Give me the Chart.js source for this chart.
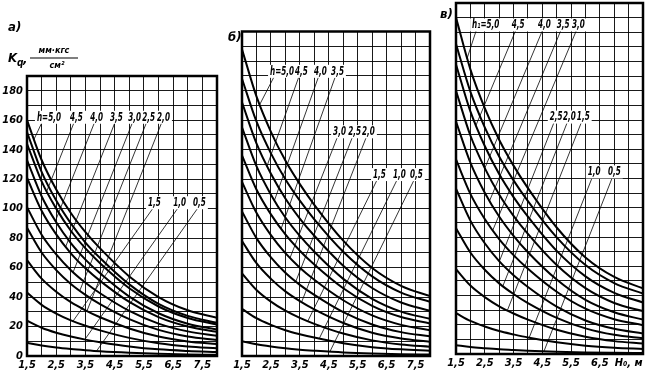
<!DOCTYPE html>
<html>
<head>
<meta charset="utf-8">
<script src="https://cdn.jsdelivr.net/npm/chart.js@4.4.1/dist/chart.umd.min.js"></script>
<style>
  html, body { margin: 0; padding: 0; background: #fff; }
  #wrap { position: relative; width: 650px; height: 382px; overflow: hidden; }
  canvas { position: absolute; top: 0; }
</style>
</head>
<body>
<div id="wrap">
  <canvas id="chartA" width="222" height="382" style="left:0"></canvas>
  <canvas id="chartB" width="212" height="382" style="left:222px"></canvas>
  <canvas id="chartC" width="216" height="382" style="left:434px"></canvas>
</div>
<script>
const hPoints = [1.5, 2, 2.5, 3, 3.5, 4, 5, 6, 7, 8];

// K_q readings, one row per curve, top curve first
const curvesA = [
  [160, 133, 113, 97, 84, 73, 54, 40, 31, 26],
  [152, 125, 105.5, 90, 77, 66.5, 48.6, 35.4, 27.2, 22.5],
  [144, 118.5, 100, 85, 73, 63, 46, 33.6, 25.8, 21.3],
  [133, 108.4, 90.7, 76.6, 65.4, 56.1, 40.3, 29, 21.9, 18],
  [121, 98.6, 82.5, 69.7, 59.5, 51, 36.7, 26.4, 20, 16.4],
  [101, 82.3, 68.9, 58.2, 49.7, 42.6, 30.6, 22, 16.7, 13.7],
  [87, 70.2, 58.3, 48.9, 41.5, 35.2, 25, 17.7, 13.2, 10.8],
  [65, 52.5, 43.6, 36.5, 31, 26.3, 18.7, 13.2, 9.9, 8.1],
  [43, 34.7, 28.8, 24.2, 20.5, 17.4, 12.3, 8.7, 6.5, 5.3],
  [24, 19.2, 15.8, 13.2, 11.1, 9.4, 6.5, 4.5, 3.4, 2.7],
  [9, 7.1, 5.7, 4.7, 3.9, 3.2, 2.2, 1.5, 1.1, 0.85]
];
const curvesB = [
  [208, 176, 152, 132.5, 116.5, 102.5, 78.2, 59.7, 47.6, 40.6],
  [188, 159, 137.4, 119.8, 105.3, 92.7, 70.7, 54, 43, 36.7],
  [172, 144.1, 123.5, 106.8, 93.2, 81.5, 61.2, 46.1, 36.3, 30.6],
  [155, 128.7, 109.4, 93.9, 81.4, 70.7, 52.3, 38.8, 30.1, 25.2],
  [136, 112.9, 96, 82.4, 71.4, 62, 45.9, 34, 26.4, 22.1],
  [118, 97.1, 81.9, 69.7, 59.9, 51.7, 37.8, 27.5, 21.1, 17.5],
  [98, 79.9, 66.8, 56.4, 48.2, 41.4, 29.7, 21.4, 16.2, 13.3],
  [78, 62.9, 52.3, 43.8, 37.2, 31.6, 22.4, 15.8, 11.9, 9.7],
  [56, 44.8, 36.9, 30.7, 25.8, 21.8, 15.2, 10.6, 7.8, 6.3],
  [32, 25.6, 21.1, 17.5, 14.8, 12.5, 8.7, 6, 4.5, 3.6],
  [10, 7.9, 6.4, 5.2, 4.3, 3.6, 2.4, 1.65, 1.2, 0.94]
];
const curvesC = [
  [230, 194.6, 168.1, 146.5, 128.8, 113.4, 86.5, 66, 52.7, 44.9],
  [212, 179.4, 155, 135, 118.7, 104.5, 79.7, 60.8, 48.5, 41.3],
  [198, 165.9, 142.2, 123, 107.3, 93.9, 70.5, 53.1, 41.8, 35.2],
  [180, 149.4, 127.1, 109.1, 94.5, 82.1, 60.8, 45, 34.9, 29.3],
  [159, 130.9, 110.3, 94, 80.8, 69.6, 50.9, 37, 28.5, 23.5],
  [133, 109.5, 92.3, 78.6, 67.6, 58.3, 42.6, 31, 23.8, 19.7],
  [113, 91.2, 75.7, 63.5, 53.9, 45.8, 32.4, 22.9, 17.2, 14],
  [86, 69.4, 57.6, 48.3, 41, 34.8, 24.7, 17.5, 13.1, 10.7],
  [58, 46.8, 38.9, 32.6, 27.7, 23.5, 16.6, 11.8, 8.8, 7.2],
  [28, 22.6, 18.8, 15.7, 13.4, 11.3, 8, 5.7, 4.3, 3.5],
  [6, 4.8, 4, 3.3, 2.8, 2.3, 1.6, 1.1, 0.84, 0.68]
];

// tick labels
const yTickLabels = [0, 20, 40, 60, 80, 100, 120, 140, 160, 180];
const xTickLabels = ["1,5", "2,5", "3,5", "4,5", "5,5", "6,5", "7,5"];
const xTickLabelsC = ["1,5", "2,5", "3,5", "4,5", "5,5", "6,5", "H\u2080, \u043c"];

const NARROW = '"Liberation Sans Narrow", "DejaVu Sans Condensed", "Roboto", sans-serif';
const tickFont = { family: NARROW, size: 11, style: "italic", weight: "bold" };

// curve labels: h = text position, lh/s = leader start and slope, c = curve index
const rowsA = [
  { k: 162, items: [
    { t: "h=5,0", h: 1.84, lh: 2.0, s: 42, c: 0 },
    { t: "4,5", h: 2.97, lh: 3.1, s: 50, c: 2 },
    { t: "4,0", h: 3.66, lh: 3.8, s: 50, c: 3 },
    { t: "3,5", h: 4.34, lh: 4.5, s: 50, c: 4 },
    { t: "3,0", h: 4.96, lh: 5.1, s: 50, c: 5 },
    { t: "2,5", h: 5.44, lh: 5.58, s: 50, c: 6 },
    { t: "2,0", h: 5.95, lh: 6.1, s: 50, c: 7 }
  ]},
  { k: 104, items: [
    { t: "1,5", h: 5.64, lh: 5.8, s: 28, c: 8 },
    { t: "1,0", h: 6.5, lh: 6.65, s: 28, c: 9 },
    { t: "0,5", h: 7.18, lh: 7.33, s: 28, c: 10 }
  ]}
];
const rowsB = [
  { k: 193, items: [
    { t: "h=5,0", h: 2.47, lh: 2.6, s: 38, c: 0 },
    { t: "4,5", h: 3.33, lh: 3.46, s: 55, c: 2 },
    { t: "4,0", h: 3.99, lh: 4.14, s: 55, c: 3 },
    { t: "3,5", h: 4.58, lh: 4.72, s: 55, c: 4 }
  ]},
  { k: 152, items: [
    { t: "3,0", h: 4.65, lh: 4.79, s: 50, c: 5 },
    { t: "2,5", h: 5.17, lh: 5.31, s: 50, c: 6 },
    { t: "2,0", h: 5.65, lh: 5.79, s: 50, c: 7 }
  ]},
  { k: 123, items: [
    { t: "1,5", h: 6.03, lh: 6.16, s: 40, c: 8 },
    { t: "1,0", h: 6.72, lh: 6.85, s: 40, c: 9 },
    { t: "0,5", h: 7.31, lh: 7.44, s: 40, c: 10 }
  ]}
];
const rowsC = [
  { k: 225, items: [
    { t: "h\u2081=5,0", h: 2.06, lh: 2.2, s: 60, c: 0 },
    { t: "4,5", h: 3.44, lh: 3.57, s: 47, c: 2 },
    { t: "4,0", h: 4.35, lh: 4.5, s: 47, c: 3 },
    { t: "3,5", h: 5.0, lh: 5.14, s: 47, c: 4 },
    { t: "3,0", h: 5.53, lh: 5.68, s: 47, c: 5 }
  ]},
  { k: 162, items: [
    { t: "2,5", h: 4.76, lh: 4.9, s: 50, c: 6 },
    { t: "2,0", h: 5.22, lh: 5.36, s: 50, c: 7 },
    { t: "1,5", h: 5.7, lh: 5.85, s: 50, c: 8 }
  ]},
  { k: 124.5, items: [
    { t: "1,0", h: 6.08, lh: 6.23, s: 50, c: 9 },
    { t: "0,5", h: 6.78, lh: 6.93, s: 50, c: 10 }
  ]}
];

function curveAt(curve, h) {
  for (let i = 0; i < hPoints.length - 1; i++) {
    if (h >= hPoints[i] && h <= hPoints[i + 1]) {
      const t = (h - hPoints[i]) / (hPoints[i + 1] - hPoints[i]);
      return curve[i] + t * (curve[i + 1] - curve[i]);
    }
  }
  return curve[curve.length - 1];
}

// walk the leader down-left until it meets its curve
function leaderEnd(curve, h0, k0, s) {
  for (let h = h0; h >= hPoints[0]; h -= 0.005) {
    const k = k0 - s * (h0 - h);
    if (k <= curveAt(curve, h)) return { x: h, y: k };
  }
  return { x: hPoints[0], y: k0 - s * (h0 - hPoints[0]) };
}

const LABEL_FONT = "italic bold 13px " + NARROW;
const SQUEEZE = 0.62;

const paperPlugin = {
  id: "paper",
  afterDatasetsDraw(chart, args, opts) {
    const { ctx, chartArea: a } = chart;
    const x = chart.scales.x, y = chart.scales.y;
    ctx.save();
    ctx.lineWidth = 2.5;
    ctx.strokeStyle = "#000";
    ctx.strokeRect(a.left, a.top, a.right - a.left, a.bottom - a.top);

    ctx.font = LABEL_FONT;
    ctx.textBaseline = "middle";
    opts.rows.forEach(row => {
      const first = row.items[0], last = row.items[row.items.length - 1];
      const x0 = x.getPixelForValue(first.h) - 2;
      const x1 = x.getPixelForValue(last.h) + ctx.measureText(last.t).width * SQUEEZE + 2;
      const yc = y.getPixelForValue(row.k);
      ctx.fillStyle = "#fff";
      ctx.fillRect(x0, yc - 6.5, x1 - x0, 13);
      ctx.fillStyle = "#000";
      row.items.forEach(it => {
        ctx.save();
        ctx.translate(x.getPixelForValue(it.h), yc);
        ctx.scale(SQUEEZE, 1);
        ctx.fillText(it.t, 0, 0);
        ctx.restore();
      });
    });

    (opts.notes || []).forEach(n => {
      ctx.font = n.font;
      ctx.textAlign = n.align || "left";
      ctx.fillText(n.t, n.px, n.py);
    });
    if (opts.fracLine) {
      ctx.lineWidth = 1.2;
      ctx.beginPath();
      ctx.moveTo(opts.fracLine[0], opts.fracLine[2]);
      ctx.lineTo(opts.fracLine[1], opts.fracLine[2]);
      ctx.stroke();
    }
    ctx.restore();
  }
};

function makePanel(id, curves, rows, o) {
  const curveSets = curves.map(c => ({
    data: hPoints.map((h, i) => ({ x: h, y: c[i] })),
    borderColor: "#000",
    borderWidth: 2,
    pointRadius: 0,
    cubicInterpolationMode: "monotone",
    fill: false
  }));
  const leaderSets = [];
  rows.forEach(r => r.items.forEach(it => {
    const k0 = r.k - 4;
    const end = leaderEnd(curves[it.c], it.lh, k0, it.s);
    leaderSets.push({
      data: [{ x: it.lh, y: k0 }, end],
      borderColor: "#000",
      borderWidth: 0.8,
      pointRadius: 0,
      fill: false
    });
  }));

  return new Chart(document.getElementById(id), {
    type: "line",
    data: { datasets: curveSets.concat(leaderSets) },
    plugins: [paperPlugin],
    options: {
      responsive: false,
      animation: false,
      layout: { autoPadding: false, padding: { top: o.top, right: o.right, left: 0, bottom: 0 } },
      plugins: {
        legend: { display: false },
        tooltip: { enabled: false },
        paper: { rows: rows, notes: o.notes, fracLine: o.fracLine }
      },
      scales: {
        x: {
          type: "linear",
          min: 1.5,
          max: 8,
          afterFit: s => { s.height = o.bottom; },
          grid: { color: "#000", lineWidth: 0.9, drawTicks: false },
          border: { display: false },
          ticks: {
            stepSize: 0.5,
            autoSkip: false,
            maxRotation: 0,
            padding: 3,
            color: "#000",
            font: tickFont,
            callback: v => {
              const i = Math.round((v - 1.5) * 2);
              return i % 2 === 0 && i / 2 < o.xLabels.length ? o.xLabels[i / 2] : "";
            }
          }
        },
        y: {
          type: "linear",
          min: 0,
          max: o.yMax,
          afterFit: s => { s.width = o.left; },
          grid: { color: "#000", lineWidth: 0.9, drawTicks: false },
          border: { display: false },
          ticks: {
            display: o.showY,
            stepSize: 10,
            autoSkip: false,
            padding: 4,
            color: "#000",
            font: tickFont,
            callback: v => yTickLabels.includes(v) ? String(v) : ""
          }
        }
      }
    }
  });
}

const boldIt = "italic bold 13px " + NARROW;
const smallIt = "italic bold 9px " + NARROW;

makePanel("chartA", curvesA, rowsA, {
  top: 76, right: 5, left: 27, bottom: 26, yMax: 190, showY: true, xLabels: xTickLabels,
  notes: [
    { t: "\u0430)", px: 8, py: 28, font: boldIt },
    { t: "K", px: 8, py: 59, font: boldIt },
    { t: "q", px: 17, py: 63, font: "italic bold 10px " + NARROW },
    { t: ",", px: 23, py: 60, font: boldIt },
    { t: "\u043c\u043c\u00b7\u043a\u0433\u0441", px: 54, py: 51, font: smallIt, align: "center" },
    { t: "\u0441\u043c\u00b2", px: 57, py: 66, font: smallIt, align: "center" }
  ],
  fracLine: [30, 78, 58]
});

makePanel("chartB", curvesB, rowsB, {
  top: 31.5, right: 4, left: 20, bottom: 26, yMax: 220, showY: false, xLabels: xTickLabels,
  notes: [{ t: "\u0431)", px: 6, py: 38, font: boldIt }]
});

makePanel("chartC", curvesC, rowsC, {
  top: 3, right: 7, left: 22, bottom: 28, yMax: 240, showY: false, xLabels: xTickLabelsC,
  notes: [{ t: "\u0432)", px: 6, py: 15, font: boldIt }]
});
</script>
</body>
</html>
